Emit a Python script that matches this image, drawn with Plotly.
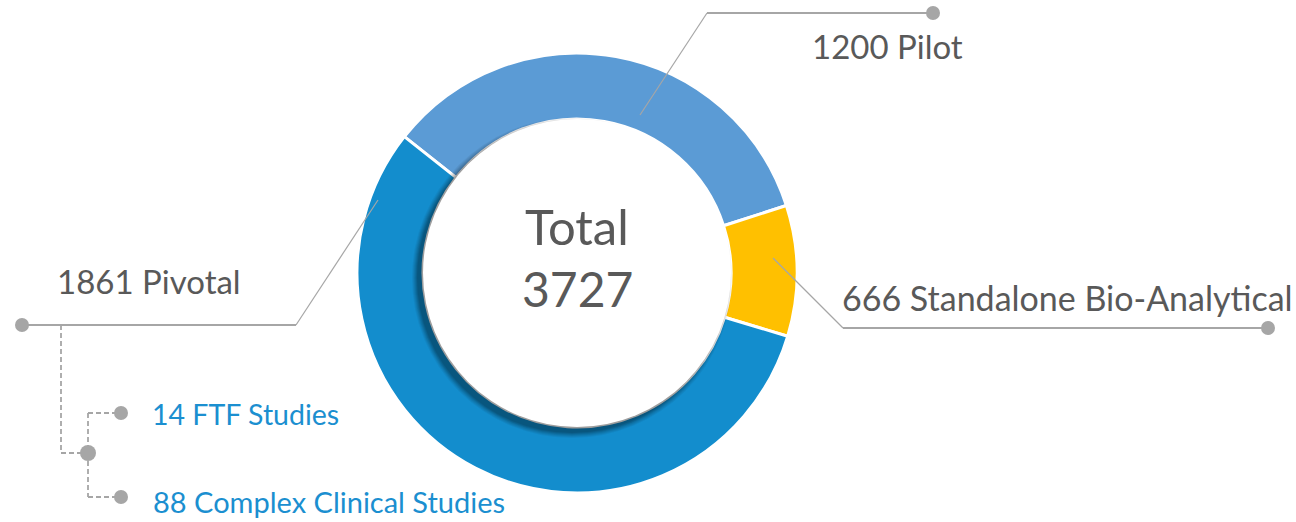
import plotly.graph_objects as go

# ---- data ----
categories = ["Pilot", "Standalone Bio-Analytical", "Pivotal"]
study_counts = [1200, 666, 1861]
# slice sizes as drawn in the picture (percent of ring)
slice_share = [34.4, 9.6, 56.0]
total = 3727
sub_labels = ["14 FTF Studies", "88 Complex Clinical Studies"]
sub_counts = [14, 88]

colors = ["#5B9BD5", "#FFC000", "#138DCD"]
W, H = 1296, 522
CX, CY, R_OUT, R_IN = 577, 273, 220, 154
FONT = "Lato"
GRAY = "#595959"
LINE = "#A6A6A6"
BLUE_TXT = "#1B8FD0"

fig = go.Figure()
fig.add_trace(go.Pie(
    labels=categories, values=slice_share, sort=False, direction="clockwise",
    rotation=-51.7, hole=R_IN / R_OUT,
    marker=dict(colors=colors, line=dict(color="white", width=3)),
    textinfo="none", hoverinfo="label", showlegend=False,
    domain=dict(x=[(CX - R_OUT) / W, (CX + R_OUT) / W],
                y=[(H - CY - R_OUT) / H, (H - CY + R_OUT) / H]),
))

shapes = []
# soft shadow of the white hole, cast to the lower-left
for k, op in [(6, 0.05), (5, 0.06), (4, 0.07), (3, 0.08), (2, 0.09), (1, 0.1)]:
    r = R_IN + k
    shapes.append(dict(type="circle", xref="x", yref="y", layer="above",
                       x0=CX - 5 - r, x1=CX - 5 + r, y0=CY + 5 - r, y1=CY + 5 + r,
                       fillcolor=f"rgba(0,0,0,{op})", line=dict(width=0)))
shapes.append(dict(type="circle", xref="x", yref="y", layer="above",
                   x0=CX - R_IN, x1=CX + R_IN, y0=CY - R_IN, y1=CY + R_IN,
                   fillcolor="white", line=dict(width=0)))


def seg(x0, y0, x1, y1, w=1.5, dash=None):
    ln = dict(color=LINE, width=w)
    if dash:
        ln["dash"] = dash
    shapes.append(dict(type="line", xref="x", yref="y", layer="above",
                       x0=x0, y0=y0, x1=x1, y1=y1, line=ln))


def dot(x, y, r=7):
    shapes.append(dict(type="circle", xref="x", yref="y", layer="above",
                       x0=x - r, x1=x + r, y0=y - r, y1=y + r,
                       fillcolor=LINE, line=dict(width=0)))


# Pilot leader
seg(640, 115, 707, 13, 1.2)
seg(707, 13, 933, 13, 2)
dot(933, 13)
# Standalone leader
seg(773, 258, 843, 328, 1.2)
seg(843, 328, 1268, 328, 2)
dot(1268, 328)
# Pivotal leader
seg(378, 200, 296, 325, 1.2)
seg(296, 325, 22, 325, 2)
dot(22, 325)
# sub-branches (dashed)
dsh = "5px,3px"
seg(61, 325, 61, 453, 1.8, dsh)
seg(61, 453, 88, 453, 1.8, dsh)
seg(88, 413, 88, 497, 1.8, dsh)
seg(88, 413, 120, 413, 1.8, dsh)
seg(88, 497, 120, 497, 1.8, dsh)
dot(88, 453, 8)
dot(121, 413)
dot(121, 497)

ann = []


def text(x, y, s, size, color, anchor="left"):
    ann.append(dict(x=x, y=y, xref="x", yref="y", text=s, showarrow=False,
                    xanchor=anchor, yanchor="middle",
                    font=dict(family=FONT, size=size, color=color)))


text(965, 46, f"{study_counts[0]} {categories[0]}", 33, GRAY, "right")
text(840, 297, f"{study_counts[1]} {categories[1]}", 34, GRAY, "left")
text(55, 281, f"{study_counts[2]} {categories[2]}", 33, GRAY, "left")
text(150, 414, sub_labels[0], 28.5, BLUE_TXT, "left")
text(151, 501, sub_labels[1], 29, BLUE_TXT, "left")
text(CX, 226, "Total", 49, GRAY, "center")
text(CX, 288, str(total), 48, GRAY, "center")

fig.update_layout(
    width=W, height=H, margin=dict(l=0, r=0, t=0, b=0),
    paper_bgcolor="white", plot_bgcolor="rgba(0,0,0,0)",
    xaxis=dict(range=[0, W], visible=False, fixedrange=True),
    yaxis=dict(range=[H, 0], visible=False, fixedrange=True),
    shapes=shapes, annotations=ann, showlegend=False,
)
fig.write_html("out.html")
